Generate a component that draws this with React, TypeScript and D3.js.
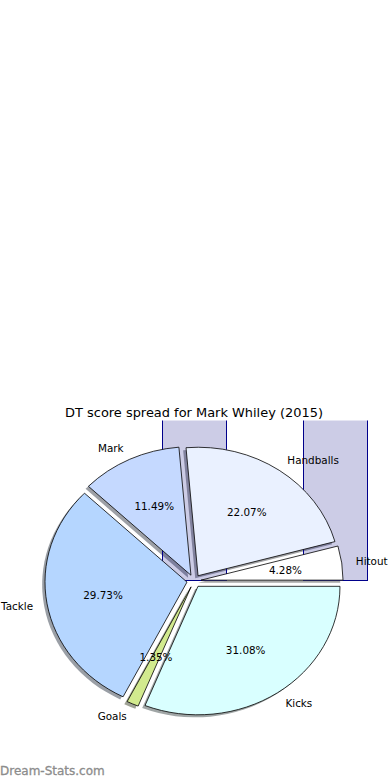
import React from "react";
import * as d3 from "d3";

// DT points by category (counter-clockwise from 3 o'clock)
const categories = ["Hitout", "Handballs", "Mark", "Tackle", "Goals", "Kicks"];
const points = [38, 196, 102, 264, 12, 276];
const colors = ["#ffffff", "#eaf1ff", "#c5d9ff", "#b5d6ff", "#d2ea8e", "#d9ffff"];
const explode = [0.05, 0.05, 0.05, 0.05, 0.05, 0.05];

// leftover bars in the same axes (centre x, width, height in data units)
const barX = [0, 0.993];
const barW = [0.455, 0.445];
const barH = [2, 2];

const title = "DT score spread for Mark Whiley (2015)";
const watermark = "Dream-Stats.com";

const W = 390;
const H = 780;

export default function App() {
  const x = d3.scaleLinear().domain([-1.25, 1.25]).range([16.5, 371.5]);
  const y = d3.scaleLinear().domain([-1.25, 1.25]).range([741.6, 420.4]);
  const rx = x(1) - x(0);
  const ry = y(0) - y(1);

  const pie = d3
    .pie<number>()
    .sort(null)
    .startAngle(0)
    .endAngle(2 * Math.PI)
    .padAngle(0);
  const arcs = pie(points);
  const total = d3.sum(points);

  const wedgePath = (cx: number, cy: number, t0: number, t1: number) => {
    const x0 = x(cx + Math.cos(t0));
    const y0 = y(cy + Math.sin(t0));
    const x1 = x(cx + Math.cos(t1));
    const y1 = y(cy + Math.sin(t1));
    const large = t1 - t0 > Math.PI ? 1 : 0;
    return `M${x(cx)},${y(cy)}L${x0},${y0}A${rx},${ry} 0 ${large} 0 ${x1},${y1}Z`;
  };

  const font = "'DejaVu Sans', sans-serif";
  const fs = 10.4;

  const wedges = arcs.map((a, i) => {
    const t0 = a.startAngle;
    const t1 = a.endAngle;
    const tm = (t0 + t1) / 2;
    const cx = explode[i] * Math.cos(tm);
    const cy = explode[i] * Math.sin(tm);
    return { i, t0, t1, tm, cx, cy };
  });

  const shade = (c: string) => {
    const col = d3.rgb(c);
    return d3.rgb(col.r * 0.3, col.g * 0.3, col.b * 0.3).formatHex();
  };
  const snap = (v: number) => Math.round(v) + 0.5;

  return (
    <svg
      width={W}
      height={H}
      viewBox={`0 0 ${W} ${H}`}
      style={{ position: "absolute", left: 0, top: 0, background: "#fff" }}
    >
      <defs>
        <clipPath id="axclip">
          <rect x={x(-1.25)} y={y(1.25)} width={x(1.25) - x(-1.25)} height={y(-1.25) - y(1.25)} />
        </clipPath>
      </defs>
      <rect x={0} y={0} width={W} height={H} fill="#fff" />
      <g clipPath="url(#axclip)">
        {/* shadows */}
        {wedges.map((w) => (
          <path
            key={"s" + w.i}
            d={wedgePath(w.cx - 0.02, w.cy - 0.02, w.t0, w.t1)}
            fill={shade(colors[w.i])}
            fillOpacity={0.5}
            stroke="none"
          />
        ))}
        {/* bars */}
        {barX.map((bx, i) => {
          const x0 = snap(x(bx - barW[i] / 2));
          const x1 = snap(x(bx + barW[i] / 2));
          const y0 = snap(y(barH[i]));
          const y1 = snap(y(0) - 1);
          return (
            <rect
              key={"b" + i}
              x={x0}
              y={y0}
              width={x1 - x0}
              height={y1 - y0}
              fill="#000080"
              fillOpacity={0.2}
              stroke="#00008b"
              strokeWidth={1}
            />
          );
        })}
        {/* wedges */}
        {wedges.map((w) => (
          <path
            key={"w" + w.i}
            d={wedgePath(w.cx, w.cy, w.t0, w.t1)}
            fill={colors[w.i]}
            stroke="#000"
            strokeWidth={0.8}
            strokeLinejoin="round"
          />
        ))}
      </g>
      {/* percentage labels */}
      {wedges.map((w) => (
        <text
          key={"p" + w.i}
          x={x(w.cx + 0.6 * Math.cos(w.tm))}
          y={y(w.cy + 0.6 * Math.sin(w.tm))}
          textAnchor="middle"
          dominantBaseline="central"
          fontFamily={font}
          fontSize={fs}
          fill="#000"
        >
          {((points[w.i] / total) * 100).toFixed(2) + "%"}
        </text>
      ))}
      {/* category labels */}
      {wedges.map((w) => (
        <text
          key={"l" + w.i}
          x={x(w.cx + 1.1 * Math.cos(w.tm))}
          y={y(w.cy + 1.1 * Math.sin(w.tm))}
          textAnchor={Math.cos(w.tm) > 0 ? "start" : "end"}
          dominantBaseline="central"
          fontFamily={font}
          fontSize={fs}
          fill="#000"
        >
          {categories[w.i]}
        </text>
      ))}
      <text
        x={(x(-1.25) + x(1.25)) / 2}
        y={416.5}
        textAnchor="middle"
        fontFamily={font}
        fontSize={12.95}
        fill="#000"
      >
        {title}
      </text>
      <text
        x={0}
        y={775}
        fontFamily={font}
        fontSize={12}
        fontWeight="normal"
        fill="#8c8c8c"
        stroke="#8c8c8c"
        strokeWidth={0.3}
      >
        {watermark}
      </text>
    </svg>
  );
}
